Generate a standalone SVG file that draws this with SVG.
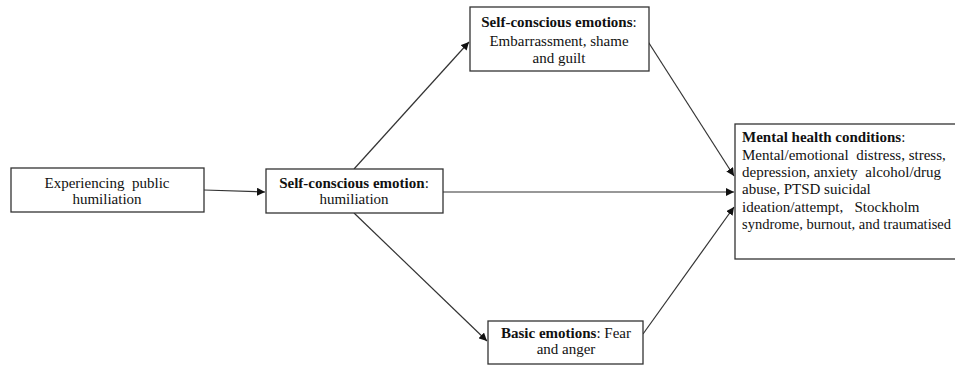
<svg xmlns="http://www.w3.org/2000/svg" width="955" height="366" viewBox="0 0 955 366">
<style>
.box{fill:#fff;stroke:#333;stroke-width:1.3}
text{font-family:"Liberation Serif","Times New Roman",serif;font-size:15px;fill:#111;white-space:pre}
.c{text-anchor:middle}
.b{font-weight:bold}
.s{font-size:14.5px}
.edge{stroke:#333;stroke-width:1.2;fill:none;marker-end:url(#ah)}
</style>
<defs>
<marker id="ah" markerUnits="userSpaceOnUse" markerWidth="9" markerHeight="8" refX="8" refY="4" orient="auto">
<path d="M0,0 L8,4 L0,8 z" fill="#111"/>
</marker>
</defs>
<rect width="955" height="366" fill="#fff"/>
<g id="connectors">
<line class="edge" x1="204" y1="190" x2="265" y2="192"/>
<line class="edge" x1="354" y1="169" x2="469" y2="42"/>
<line class="edge" x1="354" y1="213" x2="487" y2="341"/>
<line class="edge" x1="443" y1="192" x2="734" y2="192"/>
<line class="edge" x1="647" y1="40" x2="734" y2="176"/>
<line class="edge" x1="643" y1="334" x2="734" y2="207"/>
</g>
<g id="n1">
<rect class="box" x="11" y="168" width="193" height="44"/>
<text class="c" x="107" y="188">Experiencing  public</text>
<text class="c" x="107" y="204">humiliation</text>
</g>
<g id="n2">
<rect class="box" x="266" y="169" width="177" height="44"/>
<text class="c" x="354" y="188"><tspan class="b">Self-conscious emotion</tspan>:</text>
<text class="c" x="354" y="204">humiliation</text>
</g>
<g id="n3">
<rect class="box" x="470" y="7" width="179" height="64"/>
<text class="c" x="559" y="27"><tspan class="b">Self-conscious emotions</tspan>:</text>
<text class="c" x="559" y="46">Embarrassment, shame</text>
<text class="c" x="559" y="63">and guilt</text>
</g>
<g id="n4">
<rect class="box" x="488" y="321" width="155" height="43"/>
<text class="c" x="566" y="338"><tspan class="b">Basic emotions</tspan>: Fear</text>
<text class="c" x="566" y="354">and anger</text>
</g>
<g id="n5">
<rect class="box" x="735" y="124" width="230" height="135"/>
<text x="742" y="142"><tspan class="b">Mental health conditions</tspan>:</text>
<text x="742" y="159.5">Mental/emotional  distress, stress,</text>
<text x="742" y="177">depression, anxiety  alcohol/drug</text>
<text x="742" y="194">abuse, PTSD suicidal</text>
<text x="742" y="211.5">ideation/attempt,   Stockholm</text>
<text class="s" x="742" y="228.5">syndrome, burnout, and traumatised</text>
</g>
</svg>
